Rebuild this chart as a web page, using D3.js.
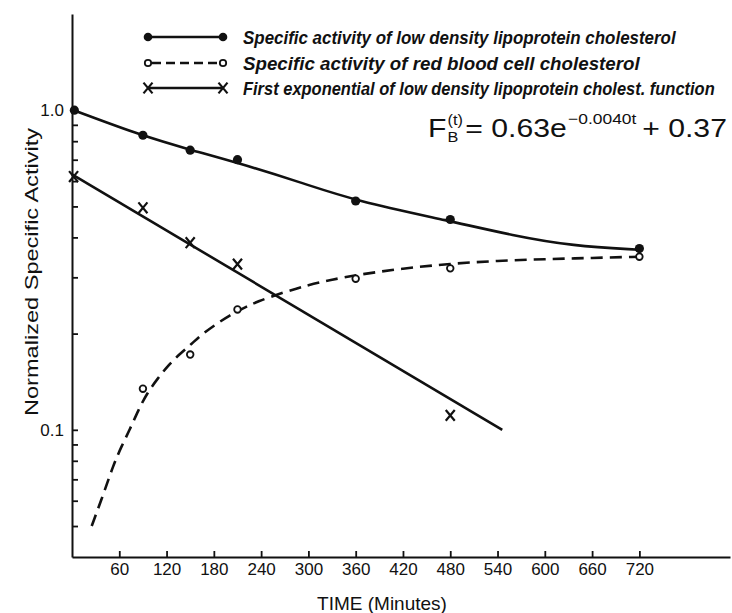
<!DOCTYPE html>
<html>
<head>
<meta charset="utf-8">
<script src="https://cdn.jsdelivr.net/npm/d3@7"></script>
<style>
body { margin: 0; background: #fff; }
</style>
</head>
<body>
<div id="chart"></div>
<script>
// values: time in minutes, normalized specific activity
var ldlTime = [3, 90, 150, 210, 360, 480, 720];
var ldlValue = [1.0, 0.835, 0.75, 0.70, 0.52, 0.455, 0.369];
var ldlCurveTime = [3, 90, 150, 210, 290, 360, 480, 560, 635, 720];
var ldlCurveValue = [0.998, 0.83, 0.752, 0.685, 0.595, 0.52, 0.45, 0.405, 0.376, 0.366];

var rbcTime = [90, 150, 210, 360, 480, 720];
var rbcValue = [0.1345, 0.172, 0.238, 0.297, 0.32, 0.348];
var rbcCurveTime = [25, 42, 52, 63, 74, 84, 95, 109, 122, 137, 152, 166, 184, 200, 217, 235, 270, 300, 330, 360, 420, 480, 540, 600, 660, 720];
var rbcCurveValue = [0.050, 0.065, 0.077, 0.089, 0.101, 0.115, 0.130, 0.145, 0.159, 0.173, 0.186, 0.200, 0.215, 0.228, 0.240, 0.252, 0.270, 0.284, 0.295, 0.305, 0.320, 0.331, 0.338, 0.342, 0.345, 0.348];

var expTime = [2, 90, 150, 210, 480];
var expValue = [0.62, 0.495, 0.385, 0.33, 0.111];
var expLineTime = [0, 546];
var expLineValue = [0.63, 0.10];

var xTicks = [60, 120, 180, 240, 300, 360, 420, 480, 540, 600, 660, 720];
var yTicks = [0.05, 0.06, 0.07, 0.08, 0.09, 0.1, 0.2, 0.3, 0.4, 0.5, 0.6, 0.7, 0.8, 0.9, 1.0];
var yLabelled = [0.1, 1.0];

var legendLabels = [
  "Specific activity of low density lipoprotein cholesterol",
  "Specific activity of red  blood cell cholesterol",
  "First exponential of low density lipoprotein cholest. function"
];
var legendWidths = [433, 397, 472];

var width = 732, height = 613;

var svg = d3.select("#chart")
    .append("svg")
    .attr("width", width)
    .attr("height", height);

var x = d3.scaleLinear()
    .domain([0, 835])
    .range([72, 730]);

var y = d3.scaleLog()
    .domain([0.04, 2.0])
    .range([557, 14]);

var ink = "#111";
var tickFont = "'Liberation Sans', Arial, sans-serif";
var legendFont = "'Liberation Sans', Arial, sans-serif";

// x axis, ticks pointing up
var xAxis = svg.append("g")
    .attr("transform", `translate(0,${y(0.04)})`)
    .call(d3.axisBottom(x).tickValues(xTicks).tickSize(-6).tickSizeOuter(0).tickPadding(6));

// y axis, ticks pointing right, only 0.1 and 1.0 labelled
var yAxis = svg.append("g")
    .attr("transform", `translate(${x(0)},0)`)
    .call(d3.axisLeft(y).tickValues(yTicks).tickSize(-6).tickSizeOuter(0).tickPadding(8)
        .tickFormat(function(d) { return yLabelled.indexOf(d) >= 0 ? d3.format(".1f")(d) : ""; }));

[xAxis, yAxis].forEach(function(g) {
  g.select(".domain").attr("stroke", ink).attr("stroke-width", 2);
  g.selectAll(".tick line").attr("stroke", ink).attr("stroke-width", 1.8);
  g.selectAll(".tick text")
    .attr("fill", ink)
    .style("font-family", tickFont)
    .style("font-size", "17px");
});

svg.append("text")
    .attr("x", 382)
    .attr("y", 610)
    .attr("text-anchor", "middle")
    .attr("fill", ink)
    .style("font-family", tickFont)
    .style("font-size", "19px")
    .text("TIME (Minutes)");

svg.append("text")
    .attr("transform", "translate(38,272) rotate(-90)")
    .attr("text-anchor", "middle")
    .attr("fill", ink)
    .attr("textLength", 288)
    .attr("lengthAdjust", "spacingAndGlyphs")
    .style("font-family", tickFont)
    .style("font-size", "19px")
    .text("Normalized Specific Activity");

// lines
var line = d3.line()
    .x(function(d) { return x(d[0]); })
    .y(function(d) { return y(d[1]); });

svg.append("path")
    .datum(d3.zip(ldlCurveTime, ldlCurveValue))
    .attr("d", line.curve(d3.curveBasis))
    .attr("fill", "none")
    .attr("stroke", ink)
    .attr("stroke-width", 2.6);

svg.append("path")
    .datum(d3.zip(rbcCurveTime, rbcCurveValue))
    .attr("d", line.curve(d3.curveBasis))
    .attr("fill", "none")
    .attr("stroke", ink)
    .attr("stroke-width", 2.6)
    .attr("stroke-dasharray", "12,7");

svg.append("path")
    .datum(d3.zip(expLineTime, expLineValue))
    .attr("d", line.curve(d3.curveLinear))
    .attr("fill", "none")
    .attr("stroke", ink)
    .attr("stroke-width", 2.6);

// markers
function cross(g, cx, cy, s) {
  g.append("path")
    .attr("d", `M${cx-s},${cy-s*1.2}L${cx+s},${cy+s*1.2}M${cx+s},${cy-s*1.2}L${cx-s},${cy+s*1.2}`)
    .attr("stroke", ink)
    .attr("stroke-width", 2.2)
    .attr("fill", "none");
}

svg.selectAll("circle.ldl")
    .data(d3.zip(ldlTime, ldlValue))
    .enter()
    .append("circle")
    .attr("class", "ldl")
    .attr("cx", function(d) { return x(d[0]); })
    .attr("cy", function(d) { return y(d[1]); })
    .attr("r", 4.6)
    .attr("fill", ink);

svg.selectAll("circle.rbc")
    .data(d3.zip(rbcTime, rbcValue))
    .enter()
    .append("circle")
    .attr("class", "rbc")
    .attr("cx", function(d) { return x(d[0]); })
    .attr("cy", function(d) { return y(d[1]); })
    .attr("r", 3.3)
    .attr("fill", "#fff")
    .attr("stroke", ink)
    .attr("stroke-width", 1.8);

d3.zip(expTime, expValue).forEach(function(d) {
  cross(svg, x(d[0]), y(d[1]), 4.5);
});

// legend
var legendY = [37, 63, 88];
var lx1 = 148, lx2 = 223;
var legend = svg.append("g");

legend.append("line")
    .attr("x1", lx1).attr("x2", lx2)
    .attr("y1", legendY[0]).attr("y2", legendY[0])
    .attr("stroke", ink).attr("stroke-width", 2.6);
[lx1, lx2].forEach(function(cx) {
  legend.append("circle").attr("cx", cx).attr("cy", legendY[0]).attr("r", 4.3).attr("fill", ink);
});

legend.append("line")
    .attr("x1", lx1 + 4).attr("x2", lx2 - 4)
    .attr("y1", legendY[1]).attr("y2", legendY[1])
    .attr("stroke", ink).attr("stroke-width", 2.4)
    .attr("stroke-dasharray", "9,5");
[lx1, lx2].forEach(function(cx) {
  legend.append("circle").attr("cx", cx).attr("cy", legendY[1]).attr("r", 3.2)
    .attr("fill", "#fff").attr("stroke", ink).attr("stroke-width", 1.8);
});

legend.append("line")
    .attr("x1", lx1).attr("x2", lx2)
    .attr("y1", legendY[2]).attr("y2", legendY[2])
    .attr("stroke", ink).attr("stroke-width", 2.4);
[lx1, lx2].forEach(function(cx) {
  cross(legend, cx, legendY[2], 4.5);
});

// condensed look: squeeze each label horizontally to its measured width
legendLabels.forEach(function(label, i) {
  var g = legend.append("g");
  var t = g.append("text")
    .attr("x", 0)
    .attr("y", 0)
    .attr("fill", ink)
    .style("font-family", legendFont)
    .style("font-style", "italic")
    .style("font-weight", "bold")
    .style("font-size", "19px")
    .text(label);
  var k = legendWidths[i] / t.node().getComputedTextLength();
  g.attr("transform", `translate(243,${legendY[i] + 7}) scale(${k},1)`);
});

// fitted function
var formula = svg.append("g");
var fy = 137;
var cur = 0;
function piece(txt, size, dy) {
  var t = formula.append("text")
    .attr("x", cur)
    .attr("y", dy)
    .attr("fill", ink)
    .style("font-family", tickFont)
    .style("font-size", size + "px")
    .text(txt);
  return t;
}
var fF = piece("F", 26, 0);
cur += fF.node().getComputedTextLength() + 1;
var fB = piece("B", 14, 5);
var fT = piece("(t)", 14, -12);
cur += Math.max(fB.node().getComputedTextLength(), fT.node().getComputedTextLength()) + 2;
var fMid = piece("= 0.63e", 26, 0);
cur += fMid.node().getComputedTextLength() + 1;
var fExp = piece("\u22120.0040t", 15, -13);
cur += fExp.node().getComputedTextLength() + 5;
var fEnd = piece("+ 0.37", 26, 0);
cur += fEnd.node().getComputedTextLength();
var sx = (727 - 428) / cur;
formula.attr("transform", `translate(428,${fy}) scale(${sx},1)`);
</script>
</body>
</html>
